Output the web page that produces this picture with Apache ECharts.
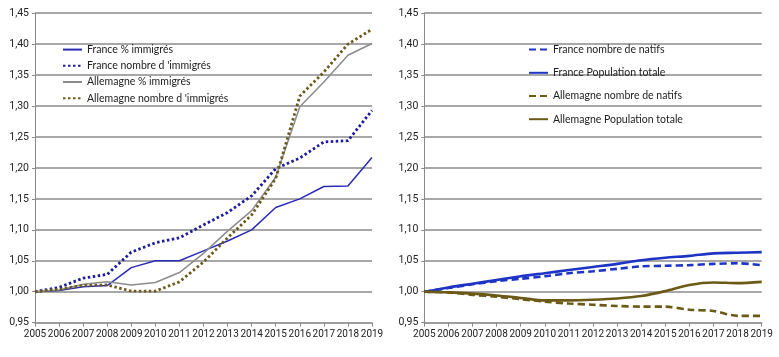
<!DOCTYPE html>
<html><head><meta charset="utf-8">
<script src="https://cdn.jsdelivr.net/npm/echarts@6/dist/echarts.min.js"></script>
<style>html,body{margin:0;padding:0;background:#fff}#c{width:779px;height:357px}</style>
</head><body><div id="c"></div>
<script>
const years = ['2005','2006','2007','2008','2009','2010','2011','2012','2013','2014','2015','2016','2017','2018','2019'];

// Left chart
const frPctImm   = [1.000,1.002,1.008,1.010,1.039,1.050,1.050,1.066,1.082,1.100,1.136,1.150,1.170,1.171,1.217];
const frNbImm    = [1.000,1.007,1.022,1.028,1.064,1.079,1.087,1.108,1.128,1.155,1.199,1.216,1.242,1.244,1.293];
const dePctImm   = [1.000,1.003,1.012,1.016,1.011,1.015,1.031,1.062,1.098,1.131,1.185,1.299,1.339,1.382,1.401];
const deNbImm    = [1.000,1.004,1.010,1.011,1.001,1.001,1.016,1.048,1.087,1.124,1.183,1.316,1.355,1.400,1.424];

// Right chart
const frNatifs   = [1.000,1.006,1.012,1.017,1.021,1.025,1.030,1.033,1.037,1.041,1.042,1.043,1.045,1.046,1.043];
const frTotal    = [1.000,1.007,1.013,1.019,1.025,1.030,1.035,1.040,1.045,1.051,1.055,1.058,1.062,1.063,1.064];
const deNatifs   = [1.000,0.999,0.995,0.992,0.988,0.984,0.981,0.979,0.977,0.976,0.976,0.971,0.969,0.961,0.961];
const deTotal    = [1.000,0.999,0.997,0.994,0.990,0.986,0.986,0.987,0.989,0.993,1.001,1.011,1.015,1.014,1.016];

const leftNames  = ['France % immigrés', "France nombre d 'immigrés", 'Allemagne % immigrés', "Allemagne nombre d 'immigrés"];
const rightNames = ['France nombre de natifs', 'France Population totale', 'Allemagne nombre de natifs', 'Allemagne Population totale'];

const FONT = 'Lato';
const AXFONT = 'Roboto';
const BLUE_L = '#2b2bb8', BLUE_D = '#1c1c9c', GRAY = '#8c8c8c', OLIVE = '#6b5a1c';
const BLUE_R = '#1d34c4', OLIVE_R = '#6b5a15';

function xAx(gi){
  return {
    type:'category', gridIndex:gi, data:years, boundaryGap:false,
    axisLine:{lineStyle:{color:'#9a9a9a', width:1.5}},
    axisTick:{show:true, interval:0, length:4, lineStyle:{color:'#8a8a8a'}},
    axisLabel:{interval:0, margin:7, color:'#222', fontFamily:AXFONT, fontSize:10},
    splitLine:{show:false}
  };
}
function yAx(gi){
  return {
    type:'value', gridIndex:gi, min:0.95, max:1.45, interval:0.05,
    axisLine:{show:true, lineStyle:{color:'#8a8a8a', width:1}},
    axisTick:{show:true, length:3, lineStyle:{color:'#8a8a8a'}},
    axisLabel:{margin:6, color:'#222', fontFamily:AXFONT, fontSize:10.5,
      formatter: v => v.toFixed(2).replace('.', ',')},
    splitLine:{show:true, lineStyle:{color:'#a8a8a8', width:1.8}}
  };
}
function ser(name, data, gi, color, width, type, smooth){
  return {name, type:'line', xAxisIndex:gi, yAxisIndex:gi, data, symbol:'none', smooth:smooth||false,
    lineStyle:{color, width, type, cap:'butt'}, itemStyle:{color}};
}

const chart = echarts.init(document.getElementById('c'));
chart.setOption({
  animation:false,
  textStyle:{fontFamily:FONT},
  grid:[
    {left:35, right:407, top:13.2, bottom:34.3},
    {left:424.3, right:17.3, top:13.2, bottom:34.3}
  ],
  xAxis:[xAx(0), xAx(1)],
  yAxis:[yAx(0), yAx(1)],
  legend:[
    {data:leftNames, orient:'vertical', left:57, top:39, itemWidth:19, itemHeight:14, itemGap:5,
     itemStyle:{opacity:0},
     textStyle:{color:'#222', fontFamily:FONT, fontSize:10.5}},
    {data:rightNames, orient:'vertical', left:523, top:39, itemWidth:19, itemHeight:14, itemGap:12,
     itemStyle:{opacity:0},
     textStyle:{color:'#222', fontFamily:FONT, fontSize:10.5}}
  ],
  series:[
    ser(leftNames[0], frPctImm, 0, BLUE_L, 1.5, 'solid'),
    ser(leftNames[1], frNbImm, 0, BLUE_D, 2.8, [2.5,2.5]),
    ser(leftNames[2], dePctImm, 0, GRAY, 1.5, 'solid'),
    ser(leftNames[3], deNbImm, 0, OLIVE, 2.8, [2.5,2.5]),
    ser(rightNames[0], frNatifs, 1, BLUE_R, 2.6, [7,4], 0.3),
    ser(rightNames[1], frTotal, 1, BLUE_R, 2.6, 'solid', 0.3),
    ser(rightNames[2], deNatifs, 1, OLIVE_R, 2.6, [7,4], 0.3),
    ser(rightNames[3], deTotal, 1, OLIVE_R, 2.6, 'solid', 0.3)
  ]
});
</script>
</body></html>
